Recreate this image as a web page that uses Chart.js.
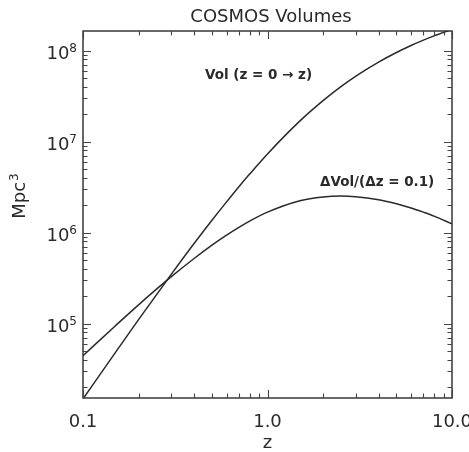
<!DOCTYPE html>
<html>
<head>
<meta charset="utf-8">
<script src="https://cdn.jsdelivr.net/npm/chart.js@4/dist/chart.umd.min.js"></script>
<style>
html,body{margin:0;padding:0;background:#fff;}
#wrap{width:469px;height:452px;}
</style>
</head>
<body>
<div id="wrap"><canvas id="c" width="469" height="452"></canvas></div>
<script>
// ---- data ----
const zValues   = [0.1, 0.15, 0.2, 0.3, 0.4, 0.5, 0.6, 0.7, 0.8, 1.0, 1.5, 2.0, 2.5, 3.0, 4.0, 5.0, 6.0, 7.0, 8.0, 10.0];
const volValues = [1.49e4, 4.84e4, 1.106e5, 3.46e5, 7.59e5, 1.368e6, 2.18e6, 3.20e6, 4.40e6, 7.33e6, 1.69e7, 2.82e7, 4.02e7, 5.22e7, 7.49e7, 9.55e7, 1.14e8, 1.305e8, 1.453e8, 1.709e8];
const dVolValues = [4.45e4, 9.5e4, 1.61e5, 3.26e5, 5.2e5, 7.3e5, 9.4e5, 1.145e6, 1.34e6, 1.68e6, 2.24e6, 2.46e6, 2.52e6, 2.48e6, 2.30e6, 2.08e6, 1.87e6, 1.68e6, 1.52e6, 1.25e6];
const xTickValues = [0.1, 1, 10];
const xTickLabels = ['0.1', '1.0', '10.0'];
const yTickExponents = [5, 6, 7, 8];
const titleText = 'COSMOS Volumes';
const xTitle = 'z';
const yTitle = 'Mpc';
const annotations = [
  {text: 'Vol (z = 0 \u2192 z)', z: 0.458, v: 5.27e7},
  {text: '\u0394Vol/(\u0394z = 0.1)', z: 1.926, v: 3.59e6}
];
const X_MIN = 0.1, X_MAX = 10, Y_MIN = 1.524e4, Y_MAX = 1.644e8;

const INK = '#2a2a2a';
const FONT = '"DejaVu Sans", sans-serif';

const axesPlugin = {
  id: 'idlAxes',
  afterDraw(chart) {
    const ctx = chart.ctx;
    const a = chart.chartArea;
    const xs = chart.scales.x, ys = chart.scales.y;
    ctx.save();
    ctx.strokeStyle = INK;
    ctx.fillStyle = INK;
    ctx.lineWidth = 1.4;
    ctx.strokeRect(a.left, a.top, a.right - a.left, a.bottom - a.top);
    ctx.lineWidth = 1.1;
    ctx.strokeStyle = '#444';
    for (let e = -1; e <= 1; e++) {
      for (let m = 1; m <= 9; m++) {
        const v = m * Math.pow(10, e);
        if (v < X_MIN - 1e-9 || v > X_MAX + 1e-9) continue;
        const px = Math.round(xs.getPixelForValue(v)) + 0.5;
        const len = (m === 1) ? 8 : 4.5;
        ctx.beginPath();
        ctx.moveTo(px, a.bottom); ctx.lineTo(px, a.bottom - len);
        ctx.moveTo(px, a.top); ctx.lineTo(px, a.top + len);
        ctx.stroke();
      }
    }
    for (let e = 4; e <= 8; e++) {
      for (let m = 1; m <= 9; m++) {
        const v = m * Math.pow(10, e);
        if (v < Y_MIN || v > Y_MAX) continue;
        const py = Math.round(ys.getPixelForValue(v)) + 0.5;
        const len = (m === 1) ? 8 : 4.5;
        ctx.beginPath();
        ctx.moveTo(a.left, py); ctx.lineTo(a.left + len, py);
        ctx.moveTo(a.right, py); ctx.lineTo(a.right - len, py);
        ctx.stroke();
      }
    }
    ctx.font = '18px ' + FONT;
    ctx.textAlign = 'center';
    ctx.textBaseline = 'alphabetic';
    xTickValues.forEach((v, i) => {
      ctx.fillText(xTickLabels[i], xs.getPixelForValue(v), a.bottom + 29);
    });
    yTickExponents.forEach(ex => {
      const py = ys.getPixelForValue(Math.pow(10, ex));
      const right = a.left - 6;
      ctx.font = '12px ' + FONT;
      ctx.textAlign = 'right';
      const sw = ctx.measureText(String(ex)).width;
      ctx.fillText(String(ex), right, py + 1.5);
      ctx.font = '18px ' + FONT;
      ctx.fillText('10', right - sw, py + 8);
    });
    ctx.font = '18px ' + FONT;
    ctx.textAlign = 'center';
    ctx.fillText(titleText, 271, 22);
    ctx.fillText(xTitle, (a.left + a.right) / 2, 448);
    ctx.save();
    ctx.translate(25, 196);
    ctx.rotate(-Math.PI / 2);
    ctx.font = '18px ' + FONT;
    ctx.textAlign = 'left';
    const mw = ctx.measureText(yTitle).width;
    ctx.font = '12px ' + FONT;
    const s3 = ctx.measureText('3').width;
    const total = mw + s3 + 1;
    ctx.font = '18px ' + FONT;
    ctx.fillText(yTitle, -total / 2, 0);
    ctx.font = '12px ' + FONT;
    ctx.fillText('3', -total / 2 + mw + 1, -7);
    ctx.restore();
    ctx.font = 'bold 13.5px ' + FONT;
    ctx.textAlign = 'left';
    ctx.textBaseline = 'middle';
    annotations.forEach(t => {
      ctx.fillText(t.text, xs.getPixelForValue(t.z), ys.getPixelForValue(t.v));
    });
    ctx.restore();
  }
};

new Chart(document.getElementById('c'), {
  type: 'line',
  data: {
    datasets: [
      {
        label: 'Vol',
        data: zValues.map((z, i) => ({x: z, y: volValues[i]})),
        borderColor: INK, borderWidth: 1.5, pointRadius: 0, fill: false,
        cubicInterpolationMode: 'monotone'
      },
      {
        label: 'dVol',
        data: zValues.map((z, i) => ({x: z, y: dVolValues[i]})),
        borderColor: INK, borderWidth: 1.5, pointRadius: 0, fill: false,
        cubicInterpolationMode: 'monotone'
      }
    ]
  },
  options: {
    responsive: false,
    animation: false,
    devicePixelRatio: 1,
    layout: {padding: {left: 83, right: 17, top: 31, bottom: 54}},
    plugins: {legend: {display: false}, tooltip: {enabled: false}, title: {display: false}},
    scales: {
      x: {type: 'logarithmic', min: X_MIN, max: X_MAX, display: false},
      y: {type: 'logarithmic', min: Y_MIN, max: Y_MAX, display: false}
    }
  },
  plugins: [axesPlugin]
});
</script>
</body>
</html>
